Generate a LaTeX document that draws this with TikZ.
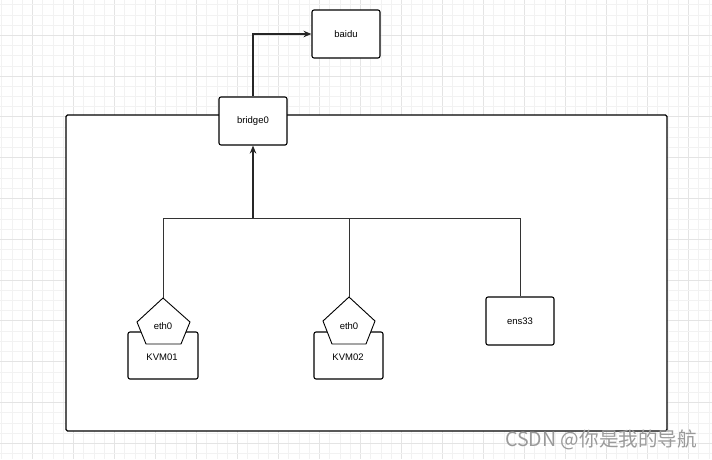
\documentclass[tikz,border=0pt]{standalone}
\usepackage{fontspec}
\setmainfont{Liberation Sans}
\newfontfamily\cjkfont{Noto Sans CJK SC}
\usetikzlibrary{arrows.meta}
\definecolor{gridminor}{HTML}{F2F2F2}
\definecolor{gridmajor}{HTML}{E4E4E4}
\definecolor{wm}{HTML}{9A9A9A}
\tikzset{
  box/.style={draw=black, line width=1.1pt, rounded corners=2pt, fill=white, inner sep=0pt, font=\fontsize{9.5}{11}\selectfont},
  pent/.style={draw=black, line width=0.9pt, fill=white, line join=miter},
  wire/.style={draw=black!80, line width=0.8pt},
  thick arrow/.style={draw=black!85, line width=1.8pt, -{Stealth[length=8pt,width=6.5pt]}},
  lbl/.style={inner sep=0pt, font=\fontsize{9.5}{11}\selectfont},
}
\begin{document}
\begin{tikzpicture}[x=1pt,y=-1pt]
\useasboundingbox (0,0) rectangle (712,459);
\fill[white] (0,0) rectangle (712,459);
% grid
\begin{scope}
\clip (0,0) rectangle (712,459);
\foreach \i in {0,...,72}{
  \pgfmathsetmacro\xx{-8.5+10.25*\i}
  \pgfmathtruncatemacro\m{mod(\i,4)}
  \ifnum\m=0
    \draw[gridmajor, line width=1pt] (\xx,0) -- (\xx,459);
  \else
    \draw[gridminor, line width=0.8pt] (\xx,0) -- (\xx,459);
  \fi
}
\foreach \i in {0,...,46}{
  \pgfmathsetmacro\yy{-5.5+10.2*\i}
  \pgfmathtruncatemacro\m{mod(\i,4)}
  \ifnum\m=0
    \draw[gridmajor, line width=1pt] (0,\yy) -- (712,\yy);
  \else
    \draw[gridminor, line width=0.8pt] (0,\yy) -- (712,\yy);
  \fi
}
\end{scope}
% big container
\node[draw=black, line width=1.1pt, fill=white, rounded corners=1.5pt, minimum width=601pt, minimum height=316pt, inner sep=0pt] (host) at (366.5,273) {};
% boxes
\node[box, minimum width=68pt, minimum height=48pt] (baidu) at (346,34) {baidu};
\node[box, minimum width=68pt, minimum height=48pt] (bridge) at (253,121) {bridge0};
\node[box, minimum width=68pt, minimum height=48pt] (ens) at (520,321) {ens33};
\node[box, minimum width=70pt, minimum height=47pt] (kvm1) at (163,355.5) {};
\node[lbl] (kvm1l) at (162,357) {KVM01};
\node[box, minimum width=69pt, minimum height=47pt] (kvm2) at (348.5,355.5) {};
\node[lbl] (kvm2l) at (348,357) {KVM02};
% pentagons
\draw[pent] (163,298) -- (190,322) -- (181,344) -- (146,344) -- (137,322) -- cycle;
\coordinate (p1) at (163,298);
\node[lbl] (eth1) at (163,326) {eth0};
\draw[pent] (349,297) -- (375,321) -- (366,344) -- (332,344) -- (323,321) -- cycle;
\coordinate (p2) at (349,297);
\node[lbl] (eth2) at (349,326) {eth0};
% bus
\coordinate (b1) at (163,218);
\coordinate (b3) at (520,218);
\draw[wire] (p1) -- (b1) -- (b3) -- (ens.north);
\draw[wire] (p2) -- (p2 |- b1);
\draw[thick arrow] (bridge.south |- b1) -- (bridge.south);
\draw[thick arrow] (bridge.north) |- (baidu.west);
% watermark
\node[anchor=base west, inner sep=0pt, text=wm, font=\cjkfont\fontsize{19.6}{22}\selectfont] (wmark) at (505,446.5) {CSDN @你是我的导航};
\end{tikzpicture}
\end{document}
